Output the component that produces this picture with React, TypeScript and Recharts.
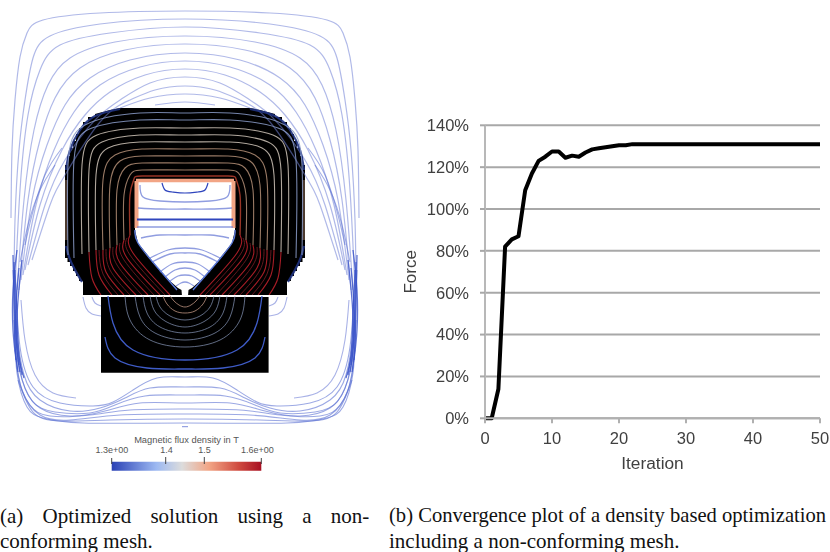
import React from "react";
import {
  AreaChart, Area, ScatterChart, Scatter, LineChart, Line, XAxis, YAxis,
  CartesianGrid, ReferenceArea, ReferenceLine, Label,
} from "recharts";

// ---------- Convergence plot ----------
const forcePercent = [0, 0, 14, 82, 85.5, 87, 109, 117, 123, 125, 127.5, 127.5, 124.5, 125.5, 125, 127, 128.5, 129, 129.5, 130, 130.5, 130.5, 131, 131, 131, 131, 131, 131, 131, 131, 131, 131, 131, 131, 131, 131, 131, 131, 131, 131, 131, 131, 131, 131, 131, 131, 131, 131, 131, 131, 131];
const iterationTicks = [0, 10, 20, 30, 40, 50];
const forceTicks = [0, 20, 40, 60, 80, 100, 120, 140];
const convergence = forcePercent.map((force, iteration) => ({ iteration, force }));

// ---------- Field picture: filled regions, left half [x, top, bottom, holeTop, holeBottom] ----------
type P = [number, number];
const coreRows: (number | null)[][] = [
  [65, 165, 258, null, null], [67.5, 165, 258, null, null], [67.5, 156, 262, null, null], [70, 156, 262, null, null],
  [70, 148, 266, null, null], [73, 148, 266, null, null], [73, 141, 271, null, null], [76, 141, 271, null, null],
  [76, 134, 276, null, null], [79, 134, 276, null, null], [79, 128, 281, null, null], [83, 128, 281, null, null],
  [83, 122, 295, null, null], [88, 122, 295, null, null], [88, 117, 295, null, null], [95, 117, 295, null, null],
  [95, 114, 295, null, null], [110, 110, 295, null, null],
  [120, 108, 295, null, null], [135, 108, 295, 181, 230], [138, 108, 295, 181, 243], [150, 108, 295, 181, 258],
  [157, 108, 295, 181, 267], [170, 108, 295, 181, 281], [178, 108, 295, 181, 288], [181.5, 108, 295, 181, 290],
  [182, 108, 295, 181, 296], [185, 108, 295, 181, 296],
];
const mirrorRows = (rows: (number | null)[][]) => [
  ...rows,
  ...rows.slice(0, -1).reverse().map((r) => [370 - (r[0] as number), ...r.slice(1)]),
];
const fieldRows = mirrorRows(coreRows).map((r) => ({
  x: r[0],
  core: [r[2], r[1]],
  hole: r[3] === null ? null : [r[4], r[3]],
}));

const mirror = (half: P[]): { x: number; y: number }[] => {
  const pts = [...half];
  if (half[half.length - 1][0] === 185) {
    pts.push(...half.slice(0, -1).reverse().map(([x, y]) => [370 - x, y] as P));
  }
  return pts.map(([x, y]) => ({ x, y }));
};
const flip = (half: P[]) => half.map(([x, y]) => ({ x: 370 - x, y }));

// Outer arches
const arches: P[][] = [
  [[11, 218], [12, 150], [15, 100], [20, 57], [27, 33], [43, 20], [100, 13], [185, 11]],
  [[14, 290], [15, 220], [19, 150], [25, 100], [33, 58], [50, 36], [100, 24], [185, 19]],
  [[15, 290], [20, 190], [28, 115], [40, 70], [60, 45], [110, 33], [185, 27]],
  [[17, 290], [24, 200], [34, 130], [48, 85], [70, 58], [115, 42], [185, 36]],
  [[19, 290], [28, 200], [40, 140], [55, 98], [80, 68], [125, 50], [185, 44]],
  [[21, 280], [32, 200], [47, 145], [65, 105], [90, 78], [130, 60], [185, 53]],
  [[23, 275], [36, 205], [54, 150], [74, 112], [100, 85], [140, 67], [185, 61]],
  [[25, 270], [40, 205], [62, 150], [85, 115], [110, 92], [145, 75], [185, 69]],
  [[28, 265], [45, 205], [65, 160], [95, 120], [120, 100], [150, 83], [185, 77]],
  [[32, 260], [50, 205], [65, 175], [100, 122], [130, 100], [155, 90], [185, 86]],
  [[120, 108], [150, 98], [185, 94]],
  [[155, 105], [185, 102]],
];
// Lower return loops
const lowerLoops: P[][] = [
  [[13, 270], [15, 330], [17, 373], [27, 407], [43, 418], [83, 423], [185, 423]],
  [[18, 380], [33, 412], [60, 421], [110, 420], [185, 419]],
  [[15, 350], [22, 390], [40, 415], [70, 420], [120, 415], [185, 414]],
  [[14, 320], [18, 375], [30, 405], [50, 416], [90, 415], [130, 410], [185, 409]],
  [[14, 290], [16, 350], [25, 388], [40, 408], [70, 416], [105, 411], [140, 403], [185, 403]],
  [[15, 310], [20, 370], [33, 402], [55, 412], [90, 413], [115, 405], [145, 396], [185, 395]],
  [[15, 280], [17, 330], [24, 375], [40, 400], [70, 411], [100, 408], [125, 398], [150, 388], [185, 387]],
  [[16, 290], [20, 347], [33, 387], [60, 403], [93, 406], [113, 402], [133, 390], [157, 378], [185, 377]],
];
const shortLoops: P[][] = [
  [[21, 300], [25, 340], [35, 375], [53, 393], [76, 398]],
  [[83, 297], [86, 308], [92, 314], [101, 316]],
  [[92, 297], [95, 303], [101, 306]],
];
// Dense strands at the sides of the picture
const sideStrands: P[][] = [
  [[13, 255], [14, 300], [15, 345], [18, 372]],
  [[14, 262], [15, 305], [17, 350], [20, 372]],
  [[15, 270], [17, 315], [19, 355], [24, 378]],
  [[22, 260], [18, 300], [17, 340], [22, 375]],
  [[19, 268], [16, 305], [16, 340], [19, 365]],
  [[17, 250], [13, 290], [13, 330], [16, 360]],
];
const shoulderStrands: P[][] = [
  [[62, 148], [45, 175], [32, 215], [25, 245]],
  [[55, 165], [40, 190], [28, 225], [20, 262]],
];
// Flux lines inside the core, upper and lower parts
const coreUpperWarm: P[][] = [
  [[130, 235], [130, 195], [134, 179], [142, 176], [185, 176]],
  [[124, 240], [124, 195], [130, 175], [142, 170], [185, 170]],
  [[117, 245], [117, 190], [125, 168], [142, 163], [185, 163]],
  [[110, 248], [110, 185], [120, 161], [142, 156], [185, 156]],
  [[103, 250], [103, 180], [115, 155], [142, 149], [185, 149]],
];
const coreUpperCool: P[][] = [
  [[96, 250], [96, 175], [108, 148], [140, 142], [185, 142]],
  [[89, 252], [89, 170], [102, 142], [140, 135], [185, 135]],
  [[82, 254], [82, 165], [97, 135], [140, 128], [185, 128]],
  [[74, 258], [74, 160], [92, 128], [140, 120], [185, 120]],
  [[68, 255], [68, 165], [85, 125], [140, 113], [185, 113]],
];
const coreLower: P[][] = [
  [[170, 295], [133, 253], [130, 235]],
  [[160, 295], [127, 258], [124, 240]],
  [[148, 295], [120, 263], [117, 245]],
  [[136, 295], [113, 268], [110, 248]],
  [[124, 295], [106, 272], [103, 250]],
  [[112, 295], [99, 275], [96, 250]],
  [[101, 295], [92, 278], [89, 252]],
];
const coreLowerDim: P[][] = [
  [[165, 295], [130, 255], [127, 238]],
  [[154, 295], [124, 260], [120, 243]],
  [[142, 295], [117, 265], [113, 247]],
  [[130, 295], [110, 270], [106, 249]],
  [[118, 295], [103, 274], [99, 250]],
];
const coreRimCool: P[][] = [
  [[66, 170], [70, 150], [80, 130], [95, 116], [120, 109]],
  [[66, 246], [71, 262], [82, 282]],
];
const coreRimWarm: P[] = [[66.5, 180], [66.5, 210], [66.5, 240]];
// Lines inside the window
const windowLines: P[][] = [
  [[140, 185], [143, 197], [160, 201], [185, 202]],
  [[138, 208], [160, 209], [185, 209]],
  [[137, 227], [160, 227], [185, 227]],
  [[141, 238], [160, 235], [185, 235]],
  [[150, 258], [168, 250], [185, 248]],
  [[152, 262], [170, 254], [185, 253]],
  [[160, 272], [172, 264], [185, 262]],
  [[165, 277], [175, 270], [185, 268]],
  [[170, 281], [178, 276], [185, 275]],
  [[176, 286], [181, 283], [185, 282]],
];
const windowStrong: P[][] = [
  [[137, 219.5], [160, 219.5], [185, 219.5]],
  [[162, 183], [165, 190], [172, 192], [185, 193]],
];
const windowEdge: P[] = [[135, 230], [138, 243], [157, 267], [177, 290]];
const windowTrim: P[][] = [[[136.5, 228], [136.5, 181]], [[136, 180.5], [185, 180.5]]];
const seam: P[] = [[83, 296], [185, 296]];
// Lines inside the lower block
const blockStrong: P[][] = [
  [[108, 296], [113, 323], [133, 350], [185, 360]],
  [[105, 337], [115, 358], [147, 368], [185, 369]],
];
const blockLight: P[][] = [
  [[125, 296], [130, 320], [150, 340], [185, 347]],
  [[135, 296], [140, 317], [155, 333], [185, 340]],
  [[143, 296], [147, 313], [160, 327], [185, 333]],
  [[150, 296], [154, 310], [165, 321], [185, 327]],
  [[156, 296], [160, 307], [170, 316], [185, 320]],
];
const blockWarm: P[][] = [
  [[163, 296], [167, 304], [175, 311], [185, 313]],
  [[170, 296], [174, 301], [179, 305], [185, 307]],
];
const centerMark: P[] = [[182, 426.7], [188, 426.7]];

// Colour bar
const barTicks = [111.7, 165.7, 204.3, 261.3];
const barTickLabels = ["1.3e+00", "1.4", "1.5", "1.6e+00"];
const barStops: [string, string][] = [["0%", "#2a41b5"], ["30%", "#9db9f2"], ["47%", "#dcdcdc"], ["65%", "#f2a585"], ["85%", "#cf4a3f"], ["100%", "#a80f22"]];

const Empty = () => <g />;

const FieldLine = (pts: { x: number; y: number }[], key: string, stroke: string, width: number, opacity = 1) => (
  <Scatter
    key={key}
    data={pts}
    shape={Empty}
    line={{ stroke, strokeWidth: width, strokeOpacity: opacity, fill: "none" }}
    lineJointType="natural"
    isAnimationActive={false}
  />
);
const both = (half: P[], key: string, stroke: string, width: number, opacity = 1) =>
  half[half.length - 1][0] === 185
    ? [FieldLine(mirror(half), key, stroke, width, opacity)]
    : [FieldLine(mirror(half), key + "l", stroke, width, opacity), FieldLine(flip(half), key + "r", stroke, width, opacity)];

const W = 370;
const H = 480;
const plain = { position: "absolute" as const, whiteSpace: "nowrap" as const };
const sans = "'Liberation Sans', Arial, sans-serif";
const serif = "'Liberation Serif', 'Times New Roman', serif";

export default function App() {
  return (
    <div style={{ position: "absolute", left: 0, top: 0, width: 830, height: 552, overflow: "hidden", background: "#fff" }}>
      {/* filled regions */}
      <div style={{ position: "absolute", left: 0, top: 0, filter: "blur(0.4px)" }}>
        <AreaChart width={W} height={H} data={fieldRows} margin={{ top: 0, right: 0, bottom: 0, left: 0 }}>
          <defs>
            <linearGradient id="fluxBar" x1="0" y1="0" x2="1" y2="0">
              {barStops.map(([o, c]) => <stop key={o} offset={o} stopColor={c} />)}
            </linearGradient>
          </defs>
          <XAxis type="number" dataKey="x" domain={[0, W]} hide />
          <YAxis type="number" domain={[0, H]} reversed hide />
          <ReferenceArea x1={101} x2={268.6} y1={297} y2={372.7} fill="#000" fillOpacity={1} stroke="none" />
          <ReferenceArea x1={111.7} x2={261.3} y1={461.7} y2={470.7} fill="url(#fluxBar)" fillOpacity={1} stroke="none" />
          <Area dataKey="core" type="linear" fill="#000" fillOpacity={1} stroke="none" dot={false} isAnimationActive={false} />
          <Area dataKey="hole" type="linear" fill="#fff" fillOpacity={1} stroke="none" dot={false} isAnimationActive={false} />
          {barTicks.map((t, i) => (
            <ReferenceLine key={t} segment={[{ x: t, y: i === 0 || i === 3 ? 458 : 457 }, { x: t, y: 464 }]} stroke="#444" strokeWidth={1} />
          ))}
        </AreaChart>
      </div>
      {/* field lines */}
      <div style={{ position: "absolute", left: 0, top: 0, filter: "blur(0.45px)" }}>
        <ScatterChart width={W} height={H} margin={{ top: 0, right: 0, bottom: 0, left: 0 }}>
          <XAxis type="number" dataKey="x" domain={[0, W]} hide />
          <YAxis type="number" dataKey="y" domain={[0, H]} reversed hide />
          {arches.flatMap((l, i) => both(l, "a" + i, "#6f7fd6", 1.2, 0.55))}
          {lowerLoops.flatMap((l, i) => both(l, "b" + i, "#5a6fd2", 1.1, 0.6))}
          {shortLoops.flatMap((l, i) => both(l, "s" + i, "#6f7fd6", 1.1, 0.6))}
          {sideStrands.flatMap((l, i) => both(l, "d" + i, "#3a52c8", 1.3, 0.8))}
          {shoulderStrands.flatMap((l, i) => both(l, "u" + i, "#5a6fd2", 1.1, 0.55))}
          {coreRimCool.flatMap((l, i) => both(l, "r" + i, "#1f3280", 2.2, 0.9))}
          {both(coreRimWarm, "rw", "#4d3b30", 3)}
          {coreUpperWarm.flatMap((l, i) => both(l, "w" + i, i === 0 ? "#a83a2a" : "#a9866f", i === 0 ? 1.4 : 1.1, 0.9))}
          {coreUpperCool.flatMap((l, i) => both(l, "c" + i, i > 2 ? "#8a9bc8" : "#cfc4b8", 1.1, 0.85))}
          {coreLower.flatMap((l, i) => both(l, "l" + i, "#b01f28", 1.1, 0.95))}
          {coreLowerDim.flatMap((l, i) => both(l, "ld" + i, "#6f1a20", 1, 0.9))}
          {windowTrim.flatMap((l, i) => both(l, "t" + i, "#f2a585", i === 0 ? 4 : 3.5))}
          {windowLines.flatMap((l, i) => both(l, "n" + i, "#7485d8", 1.3, 0.8))}
          {windowStrong.flatMap((l, i) => both(l, "g" + i, "#2f45bd", i === 0 ? 1.8 : 1.2))}
          {both(windowEdge, "e", "#5a78d8", 1.4)}
          {both(seam, "m", "#ffffff", 1.8)}
          {blockStrong.flatMap((l, i) => both(l, "k" + i, "#3f5cc8", 1.3))}
          {blockLight.flatMap((l, i) => both(l, "h" + i, "#8fa0c4", 0.9, 0.75))}
          {blockWarm.flatMap((l, i) => both(l, "j" + i, "#b08a78", 1, 0.85))}
          {FieldLine(centerMark.map(([x, y]) => ({ x, y })), "mark", "#7f8edc", 1)}
        </ScatterChart>
      </div>
      <div style={{ ...plain, left: 0, width: 373, textAlign: "center", top: 435, fontFamily: sans, fontSize: 9.3, color: "#555" }}>Magnetic flux density in T</div>
      {barTickLabels.map((t, i) => (
        <div key={t} style={{ ...plain, left: [112, 166.5, 204.5, 257.5][i] - 30, width: 60, textAlign: "center", top: 445, fontFamily: sans, fontSize: 9, color: "#555" }}>{t}</div>
      ))}

      {/* convergence plot */}
      <div style={{ position: "absolute", left: 400, top: 110, filter: "blur(0.45px)" }}>
        <LineChart width={430} height={370} data={convergence} margin={{ top: 15.3, right: 10, bottom: 21.7, left: 25 }}>
          <CartesianGrid vertical={false} stroke="#a8a8a8" strokeWidth={2} />
          <XAxis
            type="number" dataKey="iteration" domain={[0, 50]} ticks={iterationTicks} height={40}
            tick={{ fill: "#404040", fontSize: 16.5, fontFamily: sans }}
            tickLine={{ stroke: "#b0b0b0", strokeWidth: 2 }} axisLine={{ stroke: "#b0b0b0", strokeWidth: 2 }}
            tickSize={5} tickMargin={9} interval={0}
          >
            <Label value="Iteration" position="insideBottom" offset={-11} fill="#404040" fontSize={17.3} fontFamily={sans} />
          </XAxis>
          <YAxis
            type="number" domain={[0, 140]} ticks={forceTicks} width={60} tickFormatter={(v) => v + "%"}
            tick={{ fill: "#404040", fontSize: 16.5, fontFamily: sans }}
            tickLine={{ stroke: "#a8a8a8", strokeWidth: 2 }} axisLine={{ stroke: "#b8b8b8", strokeWidth: 2 }}
            tickSize={5} tickMargin={11} interval={0}
          >
            <Label value="Force" angle={-90} position="insideLeft" offset={-15} fill="#404040" fontSize={17} fontFamily={sans} style={{ textAnchor: "middle" }} />
          </YAxis>
          <Line dataKey="force" type="linear" stroke="#000" strokeWidth={4} dot={false} isAnimationActive={false} strokeLinejoin="round" />
        </LineChart>
      </div>

      {/* captions */}
      <div style={{ ...plain, left: 0, top: 504, fontFamily: serif, fontSize: 21, color: "#111", wordSpacing: 14 }}>(a) Optimized solution using a non-</div>
      <div style={{ ...plain, left: 0, top: 529, fontFamily: serif, fontSize: 21, color: "#111" }}>conforming mesh.</div>
      <div style={{ ...plain, left: 389, top: 504, fontFamily: serif, fontSize: 20.6, color: "#111" }}>(b) Convergence plot of a density based optimization</div>
      <div style={{ ...plain, left: 389, top: 529, fontFamily: serif, fontSize: 21, color: "#111" }}>including a non-conforming mesh.</div>
    </div>
  );
}
